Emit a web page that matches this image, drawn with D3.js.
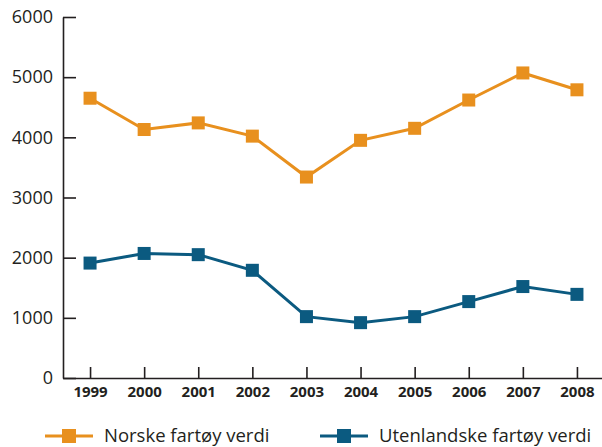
<!DOCTYPE html>
<html>
<head>
<meta charset="utf-8">
<script src="https://cdn.jsdelivr.net/npm/d3@7"></script>
<style>
  body { margin: 0; background: #fff; }
  svg text { font-family: "Open Sans", sans-serif; fill: #231f20; }
</style>
</head>
<body>
<div id="chart"></div>
<script>
// data
var years = ["1999", "2000", "2001", "2002", "2003", "2004", "2005", "2006", "2007", "2008"];
var norske = [4650, 4130, 4240, 4020, 3340, 3950, 4150, 4620, 5070, 4790];
var utenlandske = [1910, 2070, 2050, 1790, 1020, 920, 1020, 1270, 1520, 1390];
var yTicks = [0, 1000, 2000, 3000, 4000, 5000, 6000];
var seriesNames = ["Norske fartøy verdi", "Utenlandske fartøy verdi"];
var seriesColors = ["#e8901e", "#0b5a80"];

var width = 602, height = 447;
var svg = d3.select("#chart").append("svg")
  .attr("width", width)
  .attr("height", height);

var x = d3.scalePoint()
  .domain(years)
  .range([63, 604])
  .padding(0.5);

var y = d3.scaleLinear()
  .domain([0, 6000])
  .range([378, 17]);

// y axis, ticks point inwards
var yAxis = svg.append("g")
  .attr("transform", "translate(63,0)")
  .call(d3.axisLeft(y).tickValues(yTicks).tickFormat(d3.format("d"))
    .tickSizeInner(-13).tickSizeOuter(0).tickPadding(10));
yAxis.selectAll("text").style("font-size", "18px");

// x axis, ticks point up
var xAxis = svg.append("g")
  .attr("transform", "translate(0,378)")
  .call(d3.axisBottom(x).tickSizeInner(-11).tickSizeOuter(0).tickPadding(8));
xAxis.selectAll("text").style("font-size", "15px").style("font-weight", "bold");

svg.selectAll(".domain, .tick line")
  .attr("stroke", "#231f20")
  .attr("stroke-width", 1.6);

var line = d3.line()
  .x(function (d, i) { return x(years[i]); })
  .y(function (d) { return y(d); });

[norske, utenlandske].forEach(function (vals, k) {
  svg.append("path")
    .datum(vals)
    .attr("fill", "none")
    .attr("stroke", seriesColors[k])
    .attr("stroke-width", 3)
    .attr("d", line);
  svg.selectAll(".m" + k)
    .data(vals)
    .enter()
    .append("rect")
    .attr("class", "m" + k)
    .attr("x", function (d, i) { return x(years[i]) - 6.5; })
    .attr("y", function (d) { return y(d) - 6.5; })
    .attr("width", 13)
    .attr("height", 13)
    .attr("fill", seriesColors[k]);
});

// legend
var legendX = [45, 320];
var legend = svg.selectAll(".legend")
  .data(seriesNames)
  .enter()
  .append("g")
  .attr("class", "legend")
  .attr("transform", function (d, i) { return "translate(" + legendX[i] + ",436)"; });
legend.append("line")
  .attr("x1", 0).attr("x2", 48)
  .attr("stroke", function (d, i) { return seriesColors[i]; })
  .attr("stroke-width", 3);
legend.append("rect")
  .attr("x", 17).attr("y", -7)
  .attr("width", 14).attr("height", 14)
  .attr("fill", function (d, i) { return seriesColors[i]; });
legend.append("text")
  .attr("x", 59)
  .attr("dy", "0.35em")
  .style("font-size", "18.5px")
  .text(function (d) { return d; });
</script>
</body>
</html>
